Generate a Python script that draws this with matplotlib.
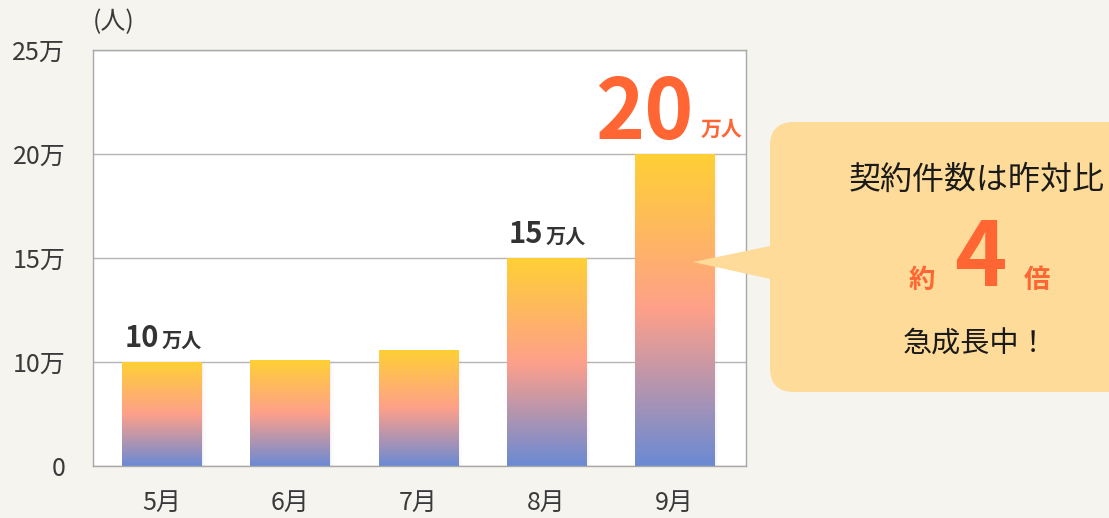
import numpy as np
import matplotlib
matplotlib.use("Agg")
import matplotlib.pyplot as plt
from matplotlib.colors import LinearSegmentedColormap
from matplotlib.patches import FancyBboxPatch, Polygon, Rectangle

plt.rcParams['font.family'] = ['Noto Sans CJK JP', 'DejaVu Sans']

# ---- data ----
months = ["5月", "6月", "7月", "8月", "9月"]
values = [10.0, 10.05, 10.55, 15.0, 20.0]          # 単位: 万人
ytick_vals = [5, 10, 15, 20, 25]
ytick_labels = ["0", "10万", "15万", "20万", "25万"]
label_idx = [0, 3, 4]
label_nums = ["10", "15", "20"]
unit_text = "万人"
y_unit = "(人)"
bubble_lines = ["契約件数は昨対比", "約", "4", "倍", "急成長中！"]

BG = "#f5f4ef"
DARK = "#333333"
ORANGE = "#ff6633"

W, H = 1109, 518
fig = plt.figure(figsize=(W / 100, H / 100), dpi=100, facecolor=BG)
ax = fig.add_axes([93 / W, (H - 466) / H, (746 - 93) / W, (466 - 50) / H])
ax.set_facecolor("white")

cmap = LinearSegmentedColormap.from_list(
    "g", [(0.0, "#6a8ad4"), (0.5, "#fea08a"), (1.0, "#ffd035")])
grad = np.linspace(0, 1, 256).reshape(-1, 1)
bw = 0.62
x = np.arange(len(months))
base = ytick_vals[0]
for xi, v in zip(x, values):
    for k, a in enumerate([0.05, 0.035, 0.02]):
        ax.add_patch(Rectangle((xi - bw / 2 + 0.01 * (k + 1), base), bw, v - base - 0.05 * k,
                               color="#808080", alpha=a, lw=0, zorder=1.5))
    ax.imshow(grad, extent=[xi - bw / 2, xi + bw / 2, base, v], origin="lower",
              cmap=cmap, aspect="auto", zorder=2, interpolation="bicubic")

ax.set_xlim(-0.54, 4.56)
ax.set_ylim(base, 25.0)
ax.set_yticks(ytick_vals)
ax.set_yticklabels(ytick_labels)
ax.set_xticks(x)
ax.set_xticklabels(months)
ax.tick_params(axis="both", length=0, labelsize=18, colors="#3a3a3a")
ax.tick_params(axis="y", pad=20)
ax.tick_params(axis="x", pad=17)
ax.grid(axis="y", color="#b4b4b4", lw=1.0, zorder=1)
ax.set_axisbelow(True)
for s in ax.spines.values():
    s.set_color("#a8a8a8")
    s.set_linewidth(1.0)

# value labels
for i, num in zip(label_idx, label_nums):
    v = values[i]
    if num == "20":
        ax.annotate(num, (x[i], v), xytext=(14, 11), textcoords="offset points",
                    ha="right", va="baseline", fontsize=60, fontweight="bold",
                    color=ORANGE, zorder=5)
        ax.annotate(unit_text, (x[i], v), xytext=(19, 13), textcoords="offset points",
                    ha="left", va="baseline", fontsize=15, fontweight="bold",
                    color=ORANGE, zorder=5, annotation_clip=False)
    else:
        ax.annotate(num, (x[i], v), xytext=(-2.5, 11), textcoords="offset points",
                    ha="right", va="baseline", fontsize=21, fontweight="bold",
                    color=DARK, zorder=5)
        ax.annotate(unit_text, (x[i], v), xytext=(-0.5, 11), textcoords="offset points",
                    ha="left", va="baseline", fontsize=14.5, fontweight="bold",
                    color=DARK, zorder=5)

fig.text(93 / W, (H - 22) / H, y_unit, ha="left", va="center", fontsize=18, color="#3a3a3a")

# overlay for callout bubble
ov = fig.add_axes([0, 0, 1, 1], zorder=5)
ov.set_xlim(0, W)
ov.set_ylim(H, 0)
ov.axis("off")
ov.patch.set_alpha(0)
BUB = "#fedb98"
ov.add_patch(FancyBboxPatch((770, 122), 420, 270,
                            boxstyle="round,pad=0,rounding_size=24",
                            fc=BUB, ec="none"))
ov.add_patch(Polygon([(693, 262), (775, 245), (775, 280)], closed=True, fc=BUB, ec="none"))

ov.text(977, 180, bubble_lines[0], ha="center", va="center", fontsize=23, color="#1a1a1a")
ov.text(922, 280, bubble_lines[1], ha="center", va="center", fontsize=19,
        fontweight="bold", color=ORANGE)
ov.text(980, 260, bubble_lines[2], ha="center", va="center", fontsize=64,
        fontweight="bold", color=ORANGE)
ov.text(1037, 280, bubble_lines[3], ha="center", va="center", fontsize=19,
        fontweight="bold", color=ORANGE)
ov.text(976, 345, bubble_lines[4], ha="center", va="center", fontsize=21, color="#1a1a1a")

fig.savefig("out.png", dpi=100, facecolor=BG)
